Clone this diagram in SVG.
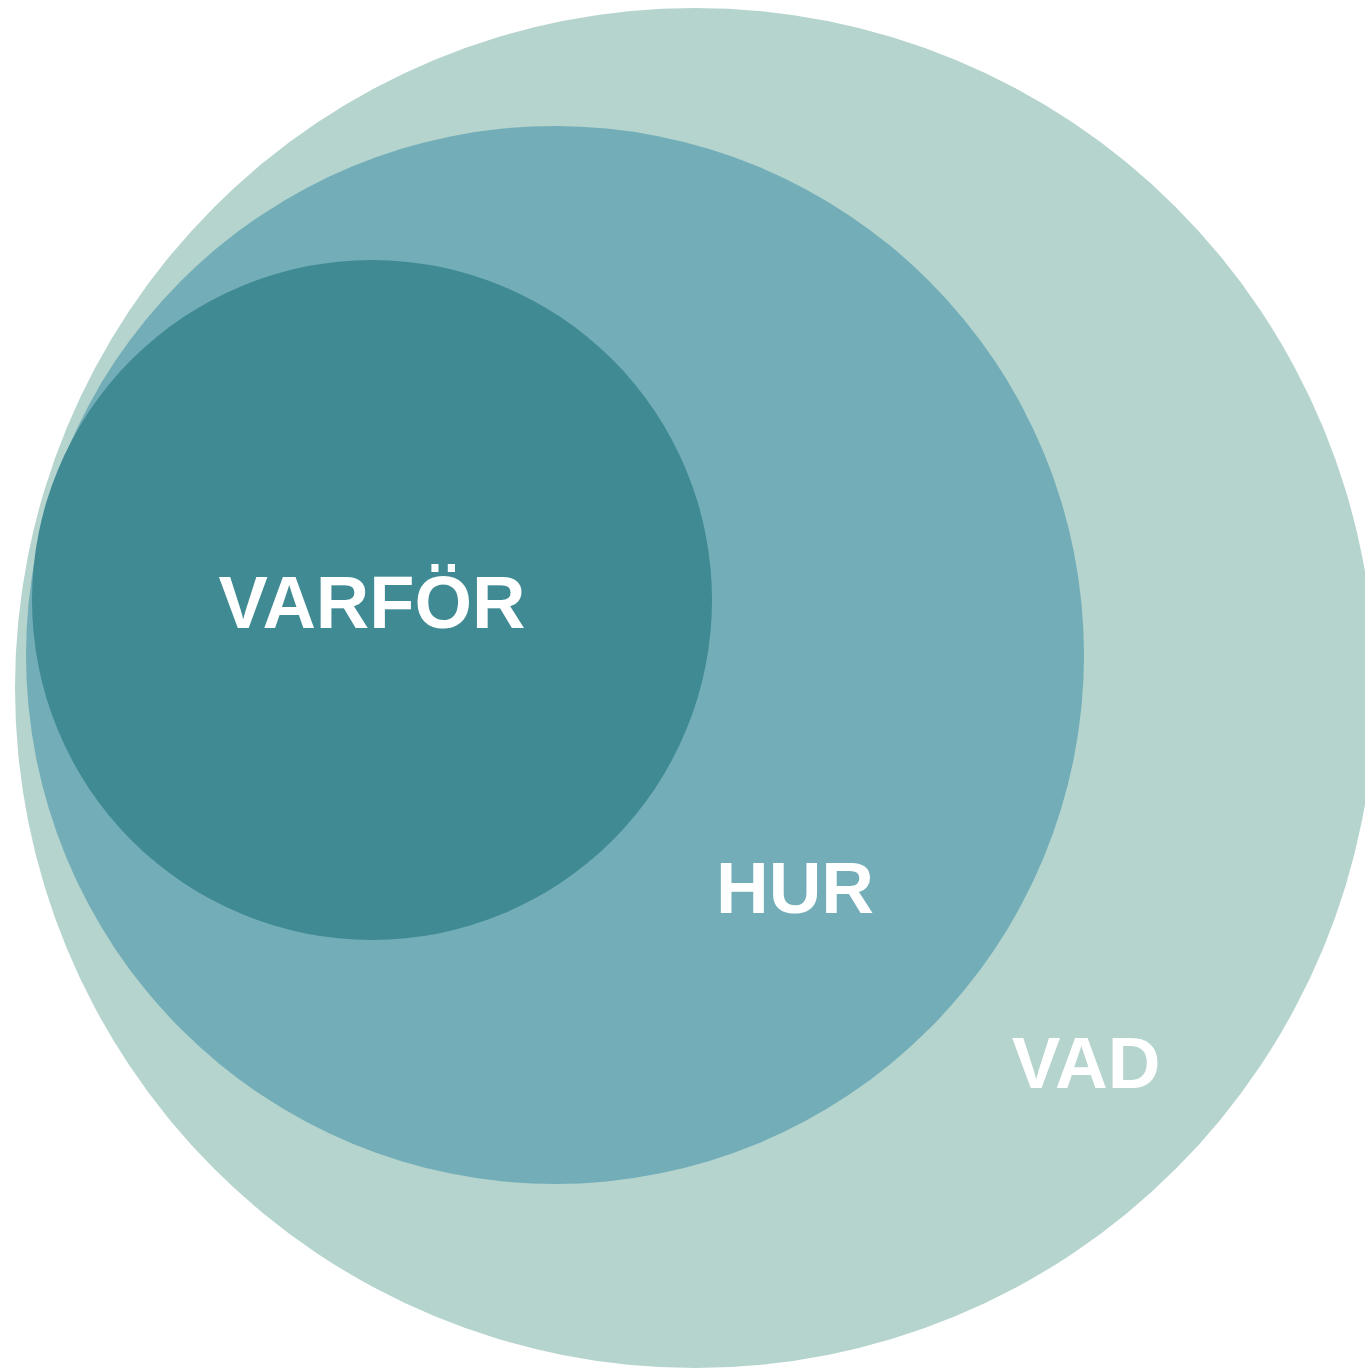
<svg xmlns="http://www.w3.org/2000/svg" width="1365" height="1369" viewBox="0 0 1365 1369">
<style>
.lbl{font-family:"Liberation Sans",Arial,sans-serif;font-weight:bold;font-size:73px;fill:#ffffff}
</style>
<rect width="1365" height="1369" fill="#ffffff"/>
<g id="vad">
<circle cx="695" cy="688" r="680" fill="#b5d4ce"/>
<text class="lbl" x="1086" y="1088" text-anchor="middle">VAD</text>
</g>
<g id="hur">
<circle cx="555" cy="655" r="529" fill="#73aeb8"/>
<text class="lbl" x="795" y="913" text-anchor="middle">HUR</text>
</g>
<g id="varfor">
<circle cx="372" cy="600" r="340" fill="#3f8a93"/>
<text class="lbl" x="372" y="628" text-anchor="middle" style="font-size:74px">VARFÖR</text>
</g>
<g id="connectors"/>
</svg>
